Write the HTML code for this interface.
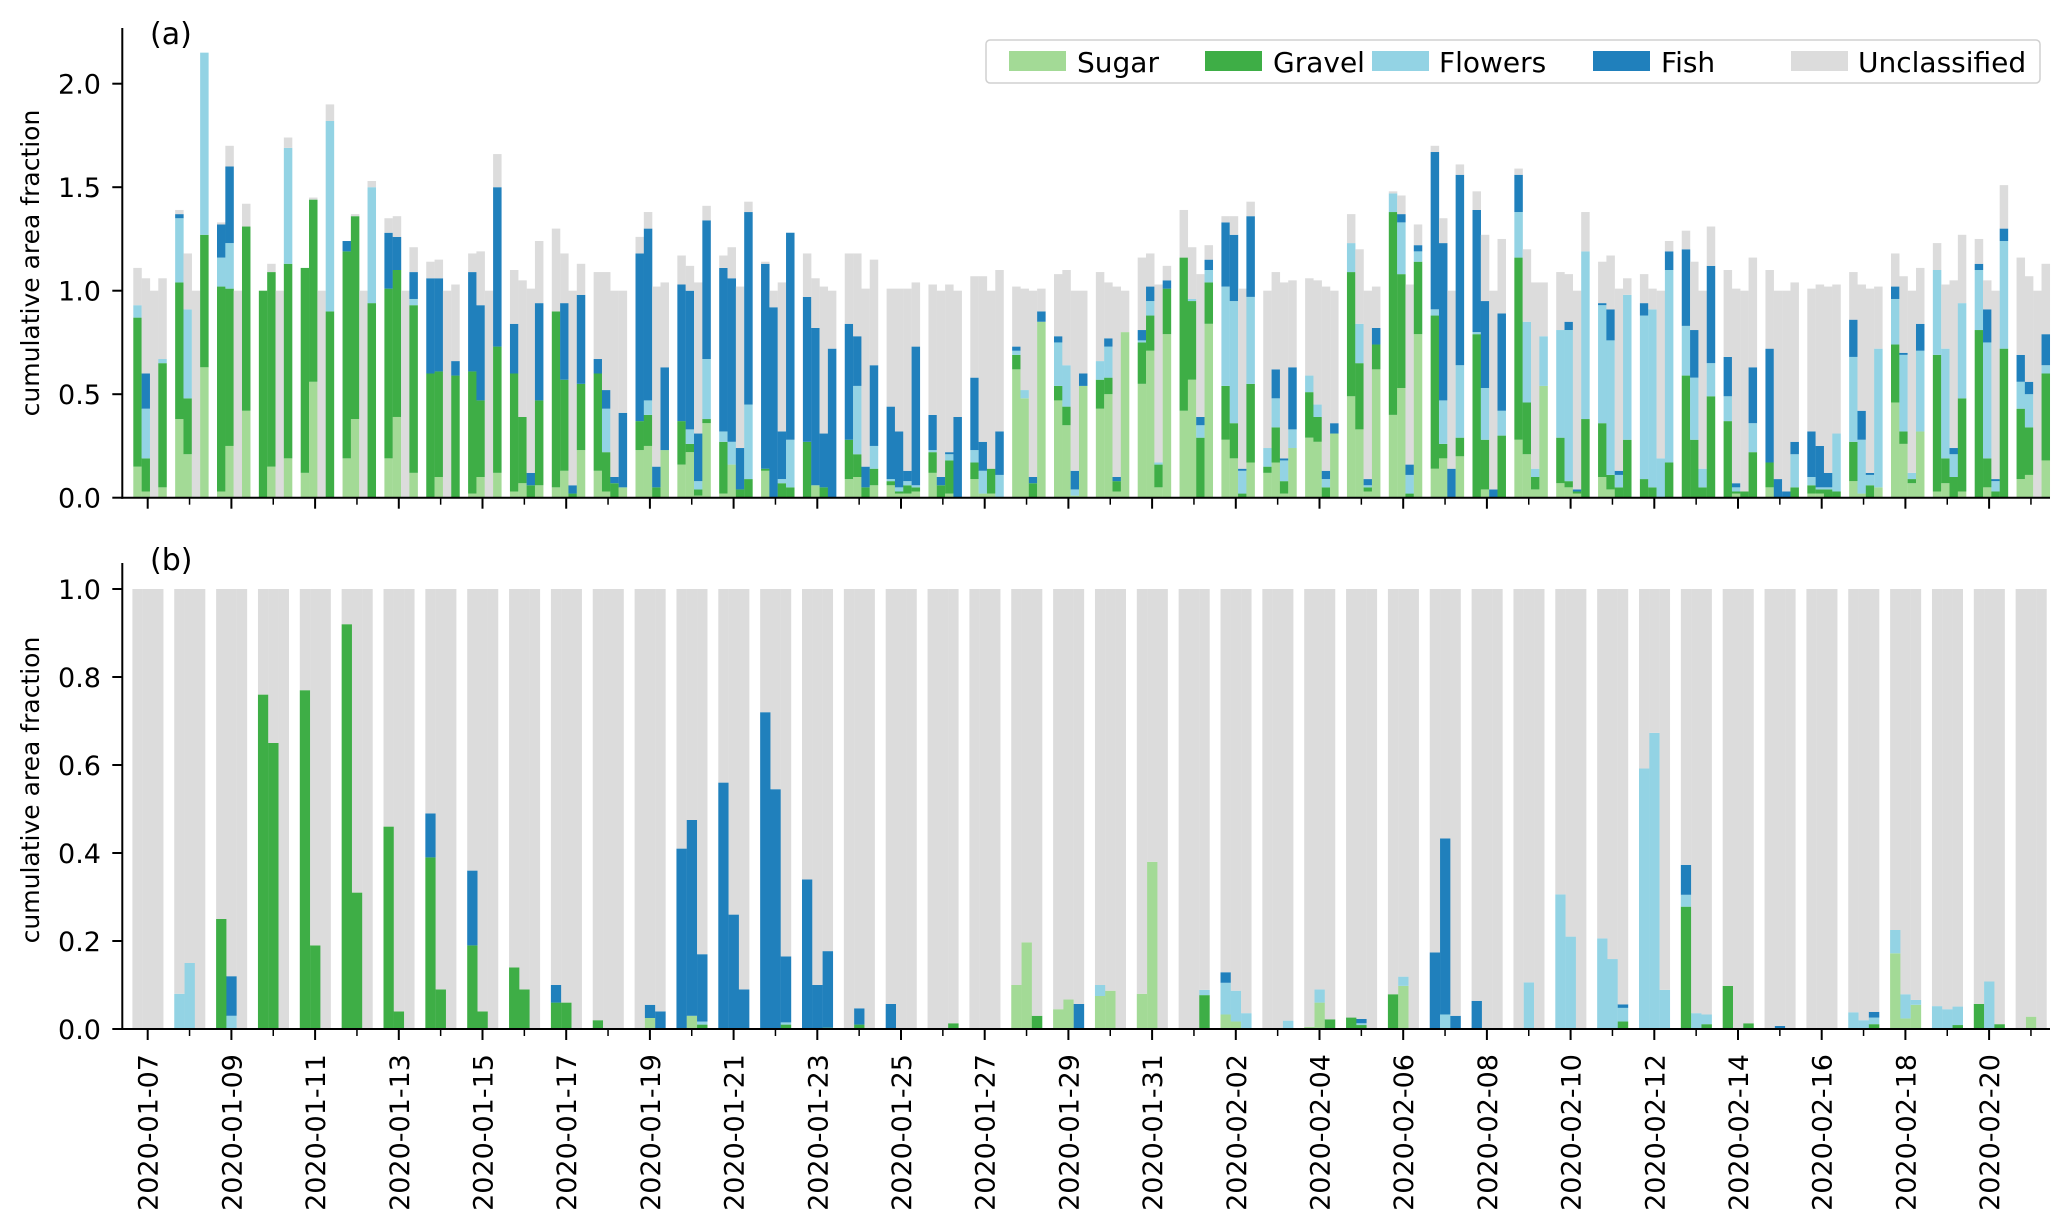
<!DOCTYPE html>
<html><head><meta charset="utf-8"><style>
html,body{margin:0;padding:0;background:#fff;}
svg{display:block;font-family:"DejaVu Sans","Liberation Sans",sans-serif;}
</style></head><body>
<svg id="chart" width="2067" height="1231" viewBox="0 0 2067 1231" xmlns="http://www.w3.org/2000/svg">
<g id="panelA"></g>
<g id="panelB"></g>
<g id="axes"></g>
<g id="legend">
<rect x="986" y="40" width="1054" height="43" rx="4" fill="#fff" stroke="#d0d0d0" stroke-width="1.5"/>
<g><rect x="1009" y="51" width="57" height="20" fill="#a3da96"/><text x="1077" y="72" font-size="28">Sugar</text></g>
<g><rect x="1205" y="51" width="57" height="20" fill="#3eae46"/><text x="1273" y="72" font-size="28">Gravel</text></g>
<g><rect x="1372" y="51" width="57" height="20" fill="#93d3e4"/><text x="1439" y="72" font-size="28">Flowers</text></g>
<g><rect x="1593" y="51" width="57" height="20" fill="#2080bc"/><text x="1661" y="72" font-size="28">Fish</text></g>
<g><rect x="1791" y="51" width="57" height="20" fill="#dcdcdc"/><text x="1858" y="72" font-size="28">Unclassified</text></g>
</g>
</svg>
<script>
// ---- categories ----
const days = ["2020-01-07","2020-01-08","2020-01-09","2020-01-10","2020-01-11","2020-01-12","2020-01-13","2020-01-14","2020-01-15","2020-01-16","2020-01-17","2020-01-18","2020-01-19","2020-01-20","2020-01-21","2020-01-22","2020-01-23","2020-01-24","2020-01-25","2020-01-26","2020-01-27","2020-01-28","2020-01-29","2020-01-30","2020-01-31","2020-02-01","2020-02-02","2020-02-03","2020-02-04","2020-02-05","2020-02-06","2020-02-07","2020-02-08","2020-02-09","2020-02-10","2020-02-11","2020-02-12","2020-02-13","2020-02-14","2020-02-15","2020-02-16","2020-02-17","2020-02-18","2020-02-19","2020-02-20","2020-02-21"];
const seriesNames = ["Sugar","Gravel","Flowers","Fish","Unclassified"];
const ticksA = [0.0,0.5,1.0,1.5,2.0];
const tickLabelsA = ["0.0","0.5","1.0","1.5","2.0"];
const ticksB = [0.0,0.2,0.4,0.6,0.8,1.0];
const tickLabelsB = ["0.0","0.2","0.4","0.6","0.8","1.0"];

// ---- panel (a): 4 bars per day ----
const sugarA = [.15,.03,0,.05, .38,.21,0,.63, .03,.25,0,.42, 0,.15,0,.19, .12,.56,0,0, .19,.38,0,0, .19,.39,0,.12, 0,.10,0,0, .02,.10,0,.12, .03,.07,0,.06, .05,.13,0,.23,
 .13,.03,0,.05, .23,.25,0,.23, .16,.22,.01,.36, .02,.16,0,0, .13,0,0,0, 0,.06,0,0, .09,.10,0,.06, .06,.02,.02,.03, .12,0,.02,0, .09,.02,.02,0, .62,.48,0,.85,
 .47,.35,.01,.54, .43,.50,.03,.80, .55,.71,.05,.79, .42,.57,0,.84, .28,.19,0,.17, .12,.17,.02,.24, .29,.27,0,.31, .49,.33,.03,.62, .40,.53,0,.79, .14,.19,0,.20, 0,.04,0,0,
 .28,.21,.04,.54, .07,.05,.02,0, .10,.04,0,0, 0,0,0,0, 0,0,0,0, 0,.02,0,0, .05,0,0,0, .02,.02,0,0, .08,.02,0,.05, .46,.26,.07,.32, .03,.07,0,.03, 0,.05,0,0, .09,.11,0,.18];
const gravelA = [.72,.16,0,.60, .66,.27,0,.64, .99,.76,0,.89, 1.0,.94,0,.94, .99,.88,0,.90, 1.0,.98,0,.94, .82,.71,0,.81, .60,.51,0,.59, .59,.37,0,.61, .57,.32,.06,.41, .85,.44,.02,.32,
 .47,.19,.07,0, .14,.15,.05,0, .21,.04,.03,.02, .25,0,.04,.09, .01,0,.07,.05, .27,0,.05,0, .19,.11,.05,.08, .02,.01,.04,.02, .10,.06,.16,0, .08,0,.12,0, .07,0,.07,0,
 .07,.09,0,0, .14,.08,.05,0, .20,.17,.11,.22, .74,.38,.29,.20, .26,.17,.02,.38, .03,.17,.06,0, .22,.12,.05,0, .60,.32,.02,.12, .98,.55,.02,.35, .74,.07,0,.09, .79,.24,0,.30,
 .88,.25,.06,0, .22,.03,.01,.38, .26,.07,.05,.28, .09,.05,0,.17, .59,.28,.05,.49, .37,.01,.03,.22, .12,0,0,.05, .04,.02,.04,.03, .19,0,.06,0, .28,.06,.02,0, .66,.12,.10,.45, .81,.14,.03,.72, .34,.23,0,.42];
const flowersA = [.06,.24,0,.02, .31,.43,0,.88, .14,.22,0,0, 0,0,0,.56, 0,0,0,.92, 0,0,0,.56, 0,0,0,.03, 0,0,0,0, 0,0,0,0, 0,0,0,0, 0,0,0,0,
 0,.21,0,0, 0,.07,0,0, 0,.07,.04,.29, .05,.11,0,.36, 0,0,.02,.23, 0,0,0,0, 0,.33,0,.11, .01,.02,.02,.01, .01,0,.03,0, .06,.11,0,.11, .02,.04,0,0,
 .21,.20,.03,0, .09,.15,0,0, .01,.07,.01,0, 0,.01,.06,.06, .48,.59,.11,.42, .09,.14,.10,.09, .08,.06,.04,0, .14,.19,.01,0, .09,.25,.09,.05, .03,.21,0,.35, .01,.25,0,.12,
 .22,.39,.04,.24, .52,.73,0,.81, .57,.65,.06,.70, .79,.86,.19,.93, .24,.30,.09,.16, .12,.02,0,.14, 0,0,0,.16, .04,.01,.01,.28, .41,.26,.05,.67, .22,.37,.03,.39, .41,.53,.11,.46, .29,.56,.05,.52, .13,.16,0,.04];
const fishA = [0,.17,0,0, .02,0,0,0, .16,.37,0,0, 0,0,0,0, 0,0,0,0, .05,0,0,0, .27,.16,0,.13, .46,.45,0,.07, .48,.46,0,.77, .24,0,.06,.47, 0,.37,.04,.43,
 .07,.09,.03,.36, .81,.83,.10,.40, .66,.67,.23,.67, .79,.79,.20,.93, .99,.92,.23,1.0, .70,.76,.26,.72, .56,.24,.10,.39, .35,.27,.05,.67, .17,.04,.01,.39, .35,.14,0,.21, .02,0,.03,.05,
 .03,0,.09,.06, 0,.04,.02,0, .05,.07,0,.04, 0,0,.04,.05, .31,.32,.01,.39, 0,.14,.01,.30, 0,0,.04,.05, 0,0,.03,.08, 0,.04,.05,.03, .76,.76,.14,.92, .59,.42,.04,.47,
 .18,0,0,0, 0,.04,.01,0, .01,.15,.02,0, .06,0,0,.09, .37,.23,0,.47, .19,.02,0,.27, .55,.09,.03,.06, .22,.20,.07,0, .18,.14,.01,0, .06,.01,0,.13, 0,0,.03,0, .03,.16,.01,.06, .13,.06,0,.15];
const unclA = [.18,.46,1,.39, .02,.27,1,0, .01,.10,1,.11, 0,.04,1,.05, 0,.01,1,.08, 0,.01,1,.03, .07,.10,1,.12, .08,.09,1,.37, .09,.26,1,.16, .26,.66,.89,.30, .40,.24,.94,.15,
 .42,.57,.90,.59, .08,.08,.87,.41, .14,.12,.73,.07, .06,.15,.78,.05, .01,.08,.72,0, .21,.24,.71,.28, .34,.40,.86,.51, .57,.69,.88,.31, .63,.90,.81,.61, .49,.80,.86,.78, .29,.49,.90,.11,
 .30,.46,.87,.40, .43,.27,.92,.20, .35,.16,.86,.07, .23,.25,.69,.07, .03,.09,.87,.07, .76,.47,.85,.42, .47,.60,.89,.64, .14,.36,.91,.20, .01,.09,.87,.10, .03,.12,.86,.05, .09,.32,.96,.36,
 .03,.35,.90,.26, .28,.23,.96,.19, .20,.26,.88,.08, .14,.10,.81,.05, .09,.33,.86,.19, .42,.94,.97,.53, .38,.91,.97,.77, .69,.78,.90,.72, .23,.61,.89,.30, .16,.37,.88,.27, .13,.31,.81,.33, .12,.14,.91,.21, .47,.51,1,.34];

// ---- panel (b): 3 bars per day ----
const sugarB = [0,0,0, 0,0,0, 0,0,0, 0,0,0, 0,0,0, 0,0,0, 0,0,0, 0,0,0, 0,0,0, 0,0,0, 0,0,0,
 0,0,0, 0,.025,0, 0,.03,0, 0,0,0, 0,0,0, 0,0,0, 0,0,0, 0,0,0, 0,0,0, 0,0,0, .10,.197,0,
 .045,.067,0, .075,.087,0, .08,.38,0, 0,0,0, .033,.017,0, 0,0,0, .005,.06,0, 0,0,0, 0,.098,0, 0,0,0, 0,0,0,
 0,0,0, 0,0,0, 0,0,0, 0,0,0, 0,0,0, 0,0,0, 0,0,0, 0,0,0, 0,0,0, .172,.024,.055, 0,0,0, 0,0,0, 0,.028,0];
const gravelB = [0,0,0, 0,0,0, .25,0,0, .76,.65,0, .77,.19,0, .92,.31,0, .46,.04,0, .39,.09,0, .19,.04,0, .14,.09,0, .06,.06,0,
 .02,0,0, 0,0,0, 0,0,.01, 0,0,0, 0,0,.01, 0,0,.003, 0,.01,0, 0,0,0, 0,0,.013, 0,0,0, 0,0,.03,
 0,0,0, 0,0,0, 0,0,0, 0,0,.077, 0,0,0, 0,0,0, 0,0,.022, .026,.009,0, .079,0,0, 0,0,0, 0,0,0,
 0,0,0, 0,0,0, 0,0,.017, 0,0,0, .278,0,.011, .098,0,.013, 0,0,0, 0,0,0, 0,0,.011, 0,0,0, 0,0,.009, .057,0,.011, 0,0,0];
const flowersB = [0,0,0, .08,.15,0, 0,.03,0, 0,0,0, 0,0,0, 0,0,0, 0,0,0, 0,0,0, 0,0,0, 0,0,0, 0,0,0,
 0,0,0, 0,0,0, 0,0,.007, 0,0,0, 0,0,.005, 0,0,0, 0,0,0, 0,0,0, 0,0,0, 0,0,0, 0,0,0,
 0,0,0, .025,0,0, 0,0,0, 0,0,.012, .072,.07,.036, 0,0,.019, 0,.03,0, 0,.004,0, 0,.021,0, 0,.033,0, 0,0,0,
 0,.106,0, .306,.21,0, .206,.159,.031, .592,.673,.089, .027,.036,.022, 0,0,0, 0,0,0, 0,0,0, .038,.02,.015, .053,.055,.011, .052,.045,.042, 0,.108,0, 0,0,0];
const fishB = [0,0,0, 0,0,0, 0,.09,0, 0,0,0, 0,0,0, 0,0,0, 0,0,0, .10,0,0, .17,0,0, 0,0,0, .04,0,0,
 0,0,0, 0,.03,.04, .41,.445,.153, .56,.26,.09, .72,.545,.15, .34,.10,.174, 0,.037,0, .057,0,0, 0,0,0, 0,0,0, 0,0,0,
 0,0,.057, 0,0,0, 0,0,0, 0,0,0, .024,0,0, 0,0,0, 0,0,0, 0,.01,0, 0,0,0, .174,.40,.03, .064,0,0,
 0,0,0, 0,0,0, 0,0,.008, 0,0,0, .068,0,0, 0,0,0, 0,.007,0, 0,0,0, 0,0,.013, 0,0,0, 0,0,0, 0,0,0, 0,0,0];

// ---- layout ----
const NS = "http://www.w3.org/2000/svg";
const colors = ["#a3da96","#3eae46","#93d3e4","#2080bc","#dcdcdc"];
const X0 = 122.3, X1 = 2050;
const xDay = d => 147.7 + 41.85 * d;
const A = {y0: 497.7, k: 207, top: 28};
const B = {y0: 1029, k: 440, top: 563};
const yA = v => A.y0 - v * A.k;
const yB = v => B.y0 - v * B.k;

function mk(tag, attrs, parent) {
  const e = document.createElementNS(NS, tag);
  for (const k in attrs) e.setAttribute(k, attrs[k]);
  parent.appendChild(e);
  return e;
}

const gA = document.getElementById("panelA");
const seriesA = [sugarA, gravelA, flowersA, fishA, unclA];
const wA = 8.33;
for (let i = 0; i < sugarA.length; i++) {
  const d = Math.floor(i / 4), j = i % 4;
  const x = xDay(d) - 14.4 + j * wA;
  let cum = 0;
  for (let s = 0; s < 5; s++) {
    const v = seriesA[s][i];
    if (v <= 0) continue;
    const r = mk("rect", {x: x.toFixed(2), y: yA(cum + v).toFixed(2), width: wA + 0.15, height: (v * A.k).toFixed(2), fill: colors[s]}, gA);
    
    
    cum += v;
  }
}

const gB = document.getElementById("panelB");
const wB = 10.3;
for (let i = 0; i < sugarB.length; i++) {
  const d = Math.floor(i / 3), j = i % 3;
  const x = xDay(d) - 15.3 + j * wB;
  const vals = [sugarB[i], gravelB[i], flowersB[i], fishB[i]];
  const used = vals.reduce((a, b) => a + b, 0);
  vals.push(Math.max(0, 1 - used));
  let cum = 0;
  for (let s = 0; s < 5; s++) {
    const v = vals[s];
    if (v <= 0) continue;
    const r = mk("rect", {x: x.toFixed(2), y: yB(cum + v).toFixed(2), width: wB + 0.15, height: (v * B.k).toFixed(2), fill: colors[s]}, gB);
    
    
    cum += v;
  }
}

// ---- axes ----
const gx = document.getElementById("axes");
function axesFor(P, yf, ticks, labels, tag, ylabelY, panelLabel, panelY) {
  let e = mk("line", {x1: X0, y1: P.top, x2: X0, y2: P.y0 + 1, stroke: "#000", "stroke-width": 2}, gx);
  
  
  e = mk("line", {x1: X0 - 1, y1: P.y0, x2: X1, y2: P.y0, stroke: "#000", "stroke-width": 2}, gx);
  
  
  ticks.forEach((t, i) => {
    const y = yf(t);
    const tk = mk("line", {x1: X0 - 10, y1: y, x2: X0, y2: y, stroke: "#000", "stroke-width": 2}, gx);
    
    
    const tx = mk("text", {x: 101, y: y + 10, "font-size": 27, "text-anchor": "end"}, gx);
    tx.textContent = labels[i];
    
    
  });
  days.forEach((dd, d) => {
    const x = xDay(d);
    const major = d % 2 === 0;
    const tk = mk("line", {x1: x, y1: P.y0, x2: x, y2: P.y0 + (major ? 11 : 7), stroke: "#000", "stroke-width": major ? 2 : 1.5}, gx);
    
    
  });
  const yl = mk("text", {x: 0, y: 0, "font-size": 25, "text-anchor": "middle", transform: "translate(39," + ylabelY + ") rotate(-90)"}, gx);
  yl.textContent = "cumulative area fraction";
  
  
  const pl = mk("text", {x: 150, y: panelY, "font-size": 30}, gx);
  pl.textContent = panelLabel;
  
  
}
axesFor(A, yA, ticksA, tickLabelsA, "a", 263, "(a)", 44);
axesFor(B, yB, ticksB, tickLabelsB, "b", 790, "(b)", 570);

days.forEach((dd, d) => {
  if (d % 2 !== 0) return;
  const x = xDay(d);
  const t = mk("text", {x: 0, y: 0, "font-size": 27, "text-anchor": "end", transform: "translate(" + (x + 10) + ",1054) rotate(-90)"}, gx);
  t.textContent = dd;
  
  
});
</script>
</body></html>
